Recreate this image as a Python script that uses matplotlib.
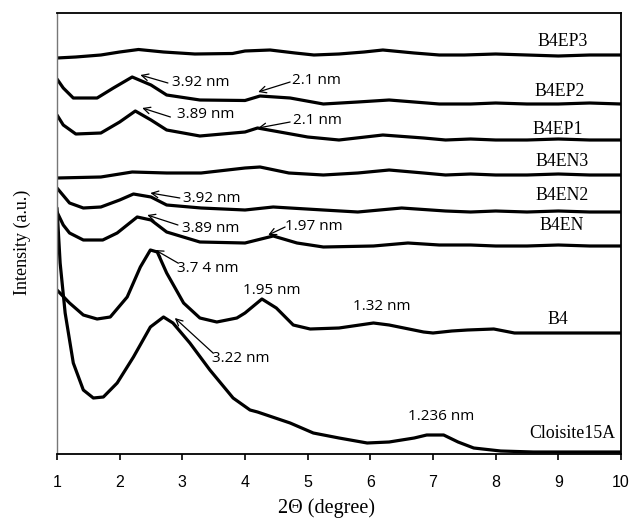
import matplotlib
matplotlib.use("Agg")
import matplotlib.pyplot as plt

# ---- data (2-theta in degrees, intensity in arbitrary units, stacked) ----
b4ep3_x = [1.0, 1.3, 1.7, 2.0, 2.3, 2.7, 3.2, 3.8, 4.0, 4.4, 4.8, 5.1, 5.5, 5.9, 6.2, 6.7, 7.1, 7.5, 8.0, 8.5, 9.0, 9.5, 10.0]
b4ep3_y = [396, 397, 399, 402, 404.5, 402, 400, 400.5, 403, 404, 401, 399, 400, 402, 404, 401, 399, 399, 400, 399, 398, 399, 399]

b4ep2_x = [1.0, 1.1, 1.26, 1.64, 1.9, 2.2, 2.5, 2.75, 3.28, 4.0, 4.24, 4.72, 5.25, 5.8, 6.3, 6.7, 7.1, 7.6, 8.0, 8.5, 9.0, 9.5, 10.0]
b4ep2_y = [375, 366, 356, 356, 366, 377, 369, 359, 354, 353.5, 358, 356, 350, 352, 354, 352, 350, 350, 351, 350, 350, 351, 350]

b4ep1_x = [1.0, 1.1, 1.3, 1.7, 2.0, 2.25, 2.5, 2.75, 3.28, 4.0, 4.2, 5.0, 5.5, 6.2, 6.85, 7.2, 7.6, 8.0, 8.5, 9.0, 9.5, 10.0]
b4ep1_y = [339, 329, 320, 321, 332, 343, 334, 324, 318, 322, 326, 317, 314, 319, 316, 314, 315, 314, 314, 315, 314, 314]

b4en3_x = [1.0, 1.7, 2.2, 2.75, 3.3, 4.0, 4.24, 4.7, 5.25, 5.8, 6.3, 6.85, 7.2, 7.6, 8.0, 8.5, 9.0, 9.5, 10.0]
b4en3_y = [276, 277, 282, 281, 281, 286, 287, 281, 279, 281, 284, 281, 279, 280, 279, 279, 280, 279, 279]

b4en2_x = [1.0, 1.2, 1.42, 1.7, 2.0, 2.22, 2.5, 2.75, 3.3, 4.0, 4.45, 5.25, 5.8, 6.5, 7.2, 7.6, 8.0, 8.5, 9.0, 9.5, 10.0]
b4en2_y = [266, 251, 246, 247, 254, 260, 257, 249, 246, 244, 247, 244, 242, 246, 243, 242, 243, 242, 243, 242, 242]

b4en_x = [1.0, 1.1, 1.2, 1.42, 1.73, 1.96, 2.28, 2.5, 2.75, 3.28, 4.0, 4.45, 4.83, 5.25, 6.05, 6.6, 7.1, 7.6, 8.0, 8.5, 9.0, 9.5, 10.0]
b4en_y = [242, 229, 221, 214, 214, 221, 237, 234, 222, 212, 211, 218, 211, 207, 208, 211, 209, 209, 208, 208, 209, 208, 208]

b4_x = [1.0, 1.2, 1.42, 1.64, 1.85, 2.12, 2.33, 2.49, 2.6, 2.75, 3.02, 3.28, 3.55, 3.87, 4.0, 4.27, 4.5, 4.77, 5.04, 5.5, 6.05, 6.3, 6.85, 7.0, 7.3, 7.55, 7.97, 8.3, 8.9, 9.5, 10.0]
b4_y = [164, 151, 139, 135, 137, 157, 187, 204, 202, 181, 151, 136, 132, 136, 141, 155, 146, 129, 125, 126, 131, 129, 122, 121, 123, 124, 125, 121, 121, 121, 121]

cl_x = [1.0, 1.05, 1.13, 1.26, 1.42, 1.58, 1.74, 1.96, 2.22, 2.49, 2.7, 2.85, 3.12, 3.44, 3.81, 4.08, 4.2, 4.72, 5.09, 5.5, 5.95, 6.3, 6.7, 6.9, 7.17, 7.4, 7.65, 8.08, 8.6, 9.0, 9.5, 10.0]
cl_y = [246, 191, 141, 91, 64, 56, 57, 71, 97, 127, 137, 131, 111, 84, 56, 44, 42, 31, 21, 16, 11, 12, 16, 19, 19, 12, 6, 3, 2, 2, 2, 2]

series = [
    (b4ep3_x, b4ep3_y), (b4ep2_x, b4ep2_y), (b4ep1_x, b4ep1_y),
    (b4en3_x, b4en3_y), (b4en2_x, b4en2_y), (b4en_x, b4en_y),
    (b4_x, b4_y), (cl_x, cl_y),
]

names = ["B4EP3", "B4EP2", "B4EP1", "B4EN3", "B4EN2", "B4EN", "B4", "Cloisite15A"]
name_pos = [(9.47, 412, "right"), (9.43, 362, "right"), (9.40, 325, "right"),
            (9.48, 292, "right"), (9.48, 258, "right"), (9.40, 229, "right"),
            (9.00, 134, "center"), (9.91, 20, "right")]

# arrow annotations: label, text position, arrow tip, arrow tail
ann_labels = ["3.92 nm", "2.1 nm", "3.89 nm", "2.1 nm", "3.92 nm", "3.89 nm", "1.97 nm", "3.7 4 nm", "3.22 nm"]
ann_text = [(2.84, 372), (4.75, 373), (2.92, 339), (4.77, 334), (3.01, 256), (3.00, 226), (4.64, 227), (2.92, 186), (3.48, 95)]
ann_tip = [(2.33, 379), (4.21, 362), (2.36, 346), (4.21, 326), (2.49, 261), (2.44, 239), (4.37, 219), (2.57, 204), (2.88, 136)]
ann_tail = [(2.77, 371), (4.72, 372), (2.81, 337), (4.72, 332), (2.96, 256), (2.93, 229), (4.64, 227), (2.93, 191), (3.49, 101)]

free_labels = ["1.95 nm", "1.32 nm", "1.236 nm"]
free_pos = [(4.42, 163), (6.18, 147), (7.13, 38)]

x_ticks = [1, 2, 3, 4, 5, 6, 7, 8, 9, 10]

# ---- figure ----
fig = plt.figure(figsize=(6.29, 5.28), dpi=100)
ax = fig.add_axes([57 / 629, 1 - 454 / 528, (621 - 57) / 629, (454 - 13) / 528])

for x, y in series:
    ax.plot(x, y, color="black", lw=2.3, solid_joinstyle="round", solid_capstyle="round")

serif = "Liberation Serif"
sans = "Open Sans"

for n, (px, py, ha) in zip(names, name_pos):
    ax.text(px, py, n, ha=ha, va="center", fontsize=12.8, family=serif)

for lab, tp, tip, tail in zip(ann_labels, ann_text, ann_tip, ann_tail):
    ax.annotate("", xy=tip, xytext=tail,
                arrowprops=dict(arrowstyle="->", color="black", lw=0.9,
                                shrinkA=0, shrinkB=0, mutation_scale=12))
    ax.text(tp[0], tp[1], lab, ha="left", va="center", fontsize=11, family=sans)

for lab, (px, py) in zip(free_labels, free_pos):
    ax.text(px, py, lab, ha="center", va="center", fontsize=11, family=sans)

ax.set_xlim(1, 10)
ax.set_ylim(0, 441)
ax.set_xticks(x_ticks)
ax.set_xticklabels([str(t) for t in x_ticks], family="Liberation Sans", fontsize=11.5)
ax.set_yticks([])
ax.tick_params(axis="x", direction="out", length=4, width=1.2, pad=11, colors="black")

ax.spines["left"].set_color("#777777")
ax.spines["left"].set_linewidth(1.0)
for s in ["top", "right", "bottom"]:
    ax.spines[s].set_color("black")
    ax.spines[s].set_linewidth(1.3)

fig.text(326 / 629, 1 - 508 / 528, "2\u0398 (degree)", ha="center", va="center",
         fontsize=14.5, family=serif)
fig.text(22 / 629, 1 - 242 / 528, "Intensity (a.u.)", ha="center", va="center",
         rotation=90, fontsize=13, family=serif)

fig.savefig("out.png", dpi=100)
